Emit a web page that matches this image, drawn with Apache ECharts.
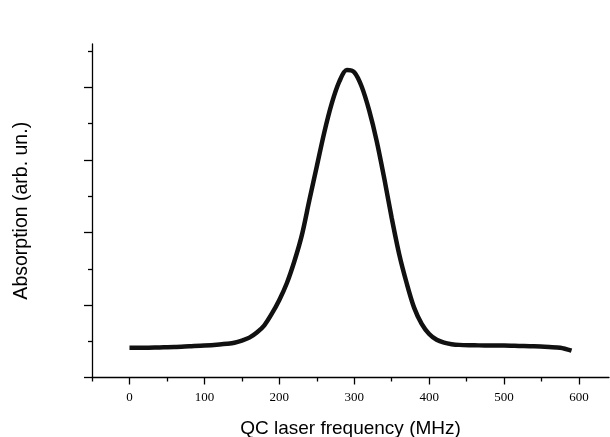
<!DOCTYPE html>
<html>
<head>
<meta charset="utf-8">
<script src="https://cdn.jsdelivr.net/npm/echarts@6/dist/echarts.min.js"></script>
<style>
  html, body { margin: 0; background: #fff; }
  #chart { width: 610px; height: 437px; }
</style>
</head>
<body>
<div id="chart"></div>
<script>
// absorption line, values
var freq = [0, 20, 40, 60, 80, 100, 120, 130, 140, 150, 160, 170, 180, 190, 200, 210, 220, 230, 240, 250,
  260, 270, 280, 290, 300, 310, 320, 330, 340, 350, 360, 370, 380, 390, 400, 410, 420, 430, 440, 460,
  480, 500, 520, 540, 560, 575, 590];
var absorb = [0.41, 0.41, 0.415, 0.42, 0.43, 0.44, 0.455, 0.465, 0.48, 0.51, 0.55, 0.62, 0.72, 0.88, 1.07, 1.30, 1.60, 1.96, 2.44, 2.91,
  3.38, 3.78, 4.08, 4.24, 4.21, 4.01, 3.68, 3.26, 2.75, 2.20, 1.70, 1.30, 0.96, 0.74, 0.60, 0.52, 0.48, 0.46, 0.45, 0.445,
  0.44, 0.44, 0.435, 0.43, 0.42, 0.41, 0.37];

var xMajor = [0, 100, 200, 300, 400, 500, 600];
var xMinor = [-50, 50, 150, 250, 350, 450, 550, 650];
var yMajor = [0, 1, 2, 3, 4];
var yMinor = [0.5, 1.5, 2.5, 3.5, 4.5];

var chart = echarts.init(document.getElementById('chart'));

var points = freq.map(function (f, i) { return [f, absorb[i]]; });

var lineBlack = { color: '#000', width: 1.3 };

var option = {
  animation: false,
  grid: { left: 92, right: 1, top: 44, bottom: 59.5, containLabel: false, outerBoundsMode: 'none' },
  xAxis: [
    {
      type: 'value', min: -50, max: 640,
      name: 'QC laser frequency (MHz)',
      nameLocation: 'middle', nameGap: 42,
      nameTextStyle: { fontFamily: 'Liberation Sans', fontSize: 19, color: '#000' },
      axisLine: { show: true, onZero: false, lineStyle: lineBlack },
      axisTick: { show: true, inside: false, length: 7, customValues: xMajor, lineStyle: lineBlack },
      axisLabel: { customValues: xMajor, margin: 14, fontFamily: 'Liberation Serif', fontSize: 13, color: '#000' },
      splitLine: { show: false }
    },
    {
      type: 'value', min: -50, max: 640, position: 'bottom',
      axisLine: { show: false, onZero: false },
      axisTick: { show: true, inside: false, length: 4, customValues: xMinor, lineStyle: lineBlack },
      axisLabel: { show: false },
      splitLine: { show: false }
    }
  ],
  yAxis: [
    {
      type: 'value', min: 0, max: 4.6,
      name: 'Absorption (arb. un.)',
      nameLocation: 'middle', nameGap: 60,
      nameTextStyle: { fontFamily: 'Liberation Sans', fontSize: 19.5, color: '#000' },
      axisLine: { show: true, onZero: false, lineStyle: lineBlack },
      axisTick: { show: true, inside: false, length: 8, customValues: yMajor, lineStyle: lineBlack },
      axisLabel: { show: false },
      splitLine: { show: false }
    },
    {
      type: 'value', min: 0, max: 4.6, position: 'left',
      axisLine: { show: false, onZero: false },
      axisTick: { show: true, inside: false, length: 4, customValues: yMinor, lineStyle: lineBlack },
      axisLabel: { show: false },
      splitLine: { show: false }
    }
  ],
  series: [
    {
      type: 'line',
      xAxisIndex: 0,
      yAxisIndex: 0,
      data: points,
      smooth: 0.3,
      showSymbol: false,
      lineStyle: { color: '#111', width: 4.5 }
    }
  ]
};

chart.setOption(option);
</script>
</body>
</html>
